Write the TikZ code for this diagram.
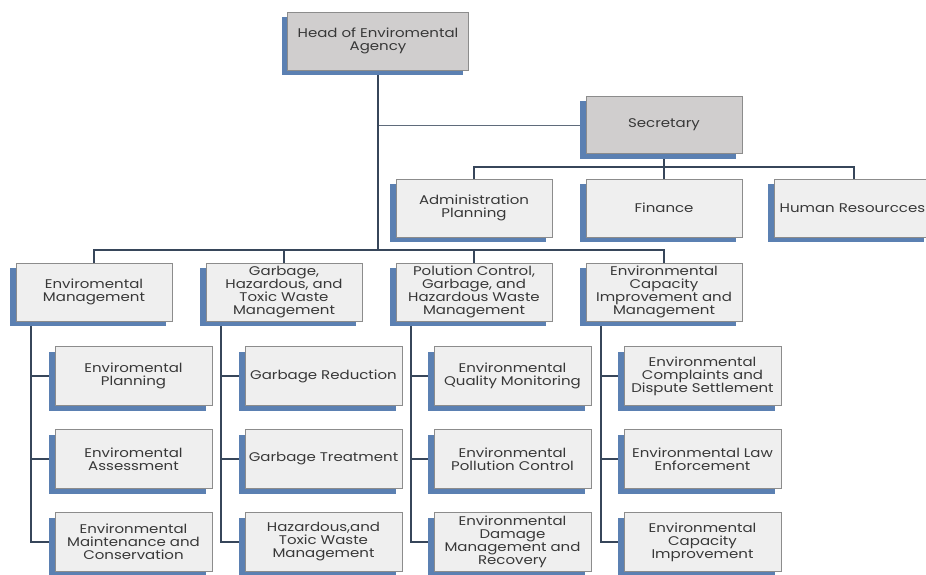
\documentclass[tikz,border=0pt]{standalone}
\usepackage{fontspec}
\setmainfont{Poppins}[FakeStretch=1.19]
\usetikzlibrary{shadows,backgrounds}
\definecolor{boxfill}{HTML}{EFEFEF}
\definecolor{topfill}{HTML}{D0CECE}
\definecolor{boxline}{HTML}{8C8C8C}
\definecolor{shadowblue}{HTML}{5B80B2}
\definecolor{linkcol}{HTML}{37465A}
\definecolor{textcol}{HTML}{383838}
\begin{document}
\begin{tikzpicture}[x=1pt,y=-1pt,
  unit/.style={draw=boxline, line width=0.8pt, fill=boxfill, text=textcol,
    minimum width=156pt, minimum height=58pt, inner sep=1pt, align=center,
    font=\fontsize{12.6}{13}\selectfont,
    general shadow={shadow xshift=-6pt, shadow yshift=-5pt, fill=shadowblue}},
  lead/.style={unit, fill=topfill},
  sub/.style={unit, minimum width=157pt, minimum height=59pt},
  link/.style={draw=linkcol, line width=1.8pt},
  thinlink/.style={draw=linkcol!80, line width=0.9pt}]
\useasboundingbox (0,0) rectangle (926,575);
\clip (0,0) rectangle (926,575);

% top levels
\node[lead, minimum width=181pt] (head) at (378,41) {Head of Enviromental\\Agency};
\node[lead, minimum height=57pt] (sec) at (664,125) {Secretary};
\node[unit] (adm) at (474,208) {Administration\\Planning};
\node[unit] (fin) at (664,208) {Finance};
\node[unit, anchor=west] (hr) at (774,208) {Human Resourcces};

% departments
\node[unit] (d1) at (94,292) {Enviromental\\Management};
\node[unit] (d2) at (284,292) {Garbage,\\Hazardous, and\\Toxic Waste\\Management};
\node[unit] (d3) at (474,292) {Polution Control,\\Garbage, and\\Hazardous Waste\\Management};
\node[unit] (d4) at (664,292) {Environmental\\Capacity\\Improvement and\\Management};

% sections
\node[sub] (a1) at (133.5,376) {Enviromental\\Planning};
\node[sub] (a2) at (133.5,459) {Enviromental\\Assessment};
\node[sub] (a3) at (133.5,542) {Environmental\\Maintenance and\\Conservation};
\node[sub] (b1) at (323.5,376) {Garbage Reduction};
\node[sub] (b2) at (323.5,459) {Garbage Treatment};
\node[sub] (b3) at (323.5,542) {Hazardous,and\\Toxic Waste\\Management};
\node[sub] (c1) at (512.5,376) {Environmental\\Quality Monitoring};
\node[sub] (c2) at (512.5,459) {Environmental\\Pollution Control};
\node[sub] (c3) at (512.5,542) {Environmental\\Damage\\Management and\\Recovery};
\node[sub] (e1) at (702.5,376) {Environmental\\Complaints and\\Dispute Settlement};
\node[sub] (e2) at (702.5,459) {Environmental Law\\Enforcement};
\node[sub] (e3) at (702.5,542) {Environmental\\Capacity\\Improvement};

\coordinate (bus) at (378,250);
\coordinate (sbus) at (664,167);
\coordinate (hrdrop) at (854,179);
\coordinate (v1) at (31,0);
\coordinate (v2) at (221,0);
\coordinate (v3) at (411,0);
\coordinate (v4) at (601,0);

\begin{scope}[on background layer]
  \draw[thinlink] (head.south |- sec.west) -- (sec.west);
  \draw[link] (head.south) -- (bus);
  \draw[link] (d1.north) |- (bus) -| (d4.north);
  \draw[link] (d2.north) -- (d2.north |- bus);
  \draw[link] (d3.north) -- (d3.north |- bus);
  \draw[link] (sec.south) -- (sbus) -- (fin.north);
  \draw[link] (adm.north) |- (sbus) -| (hrdrop);
  \foreach \d/\v/\s in {d1/v1/a, d2/v2/b, d3/v3/c, d4/v4/e} {
    \draw[link] (\d.south -| \v) |- (\s3.west);
    \draw[link] (\s1.west -| \v) -- (\s1.west);
    \draw[link] (\s2.west -| \v) -- (\s2.west);
  }
\end{scope}
\end{tikzpicture}
\end{document}
